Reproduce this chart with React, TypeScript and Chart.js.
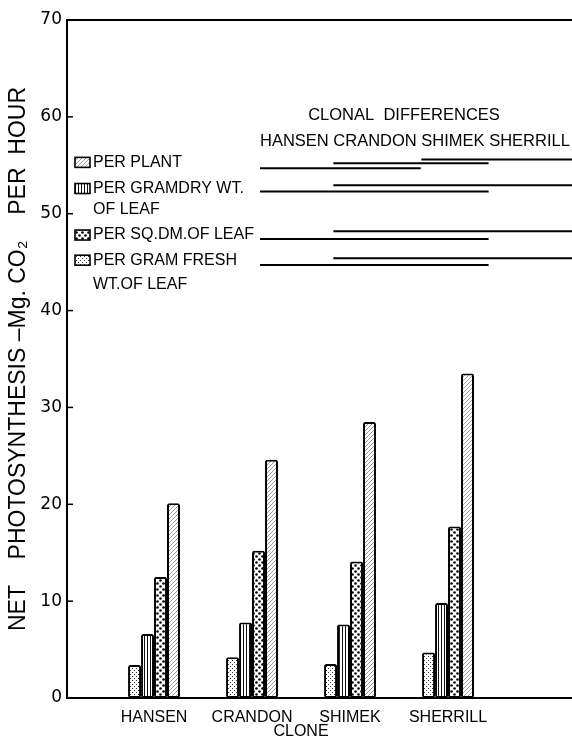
import React, { useEffect, useRef } from "react";
import { Chart, registerables } from "chart.js";

Chart.register(...registerables);

// ---- data ----
const CLONES = ["HANSEN", "CRANDON", "SHIMEK", "SHERRILL"];
const PER_GRAM_FRESH = [3.4, 4.2, 3.5, 4.7];
const PER_GRAM_DRY = [6.6, 7.8, 7.6, 9.8];
const PER_SQ_DM = [12.5, 15.2, 14.1, 17.7];
const PER_PLANT = [20.1, 24.6, 28.5, 33.5];
const Y_TICKS = [0, 10, 20, 30, 40, 50, 60, 70];

// clonal differences: ranges of clones (by index) that are not different
const DIFF_PER_PLANT = [[0, 1], [1, 2], [2, 3]];
const DIFF_PER_GRAM_DRY = [[0, 2], [1, 3]];
const DIFF_PER_SQ_DM = [[0, 2], [1, 3]];
const DIFF_PER_GRAM_FRESH = [[0, 2], [1, 3]];

const Y_TITLE = "NET    PHOTOSYNTHESIS –Mg. CO₂    PER  HOUR";

type Kind = "fresh" | "dry" | "sqdm" | "plant";

function makePattern(kind: Kind): CanvasPattern | string {
  const c = document.createElement("canvas");
  const g = c.getContext("2d");
  if (!g) return "#fff";
  if (kind === "fresh") {
    c.width = 4; c.height = 4;
    g.fillStyle = "#fff"; g.fillRect(0, 0, 4, 4);
    g.fillStyle = "#333";
    g.fillRect(0, 0, 1, 1); g.fillRect(2, 2, 1, 1);
  } else if (kind === "dry") {
    c.width = 3; c.height = 4;
    g.fillStyle = "#fff"; g.fillRect(0, 0, 3, 4);
    g.fillStyle = "#111"; g.fillRect(0, 0, 1, 4);
  } else if (kind === "sqdm") {
    c.width = 6; c.height = 6;
    g.fillStyle = "#fff"; g.fillRect(0, 0, 6, 6);
    g.fillStyle = "#000";
    g.beginPath(); g.arc(1.5, 1.5, 1.3, 0, Math.PI * 2); g.fill();
    g.beginPath(); g.arc(4.5, 4.5, 1.3, 0, Math.PI * 2); g.fill();
  } else {
    c.width = 4; c.height = 4;
    g.fillStyle = "#fff"; g.fillRect(0, 0, 4, 4);
    g.strokeStyle = "#888"; g.lineWidth = 0.8;
    g.beginPath();
    g.moveTo(0, 4); g.lineTo(4, 0);
    g.moveTo(-1, 1); g.lineTo(1, -1);
    g.moveTo(3, 5); g.lineTo(5, 3);
    g.stroke();
  }
  return g.createPattern(c, "repeat") || "#fff";
}

export default function App() {
  const ref = useRef<HTMLCanvasElement | null>(null);

  useEffect(() => {
    if (!ref.current) return;
    const pats: Record<Kind, any> = {
      fresh: makePattern("fresh"),
      dry: makePattern("dry"),
      sqdm: makePattern("sqdm"),
      plant: makePattern("plant"),
    };

    const legendRows = [
      { kind: "plant" as Kind, lines: ["PER PLANT"], y: 55.3, y2: 0, lineYs: [54.7, 55.2, 55.6], diffs: DIFF_PER_PLANT },
      { kind: "dry" as Kind, lines: ["PER GRAMDRY WT.", "OF LEAF"], y: 52.6, y2: 50.4, lineYs: [52.3, 52.95], diffs: DIFF_PER_GRAM_DRY },
      { kind: "sqdm" as Kind, lines: ["PER SQ.DM.OF LEAF"], y: 47.8, y2: 0, lineYs: [47.4, 48.2], diffs: DIFF_PER_SQ_DM },
      { kind: "fresh" as Kind, lines: ["PER GRAM FRESH", "WT.OF LEAF"], y: 45.2, y2: 42.7, lineYs: [44.7, 45.4], diffs: DIFF_PER_GRAM_FRESH },
    ];

    const decor = {
      id: "decor",
      afterDraw(chart: any) {
        const ctx: CanvasRenderingContext2D = chart.ctx;
        const { left, right, top, bottom } = chart.chartArea;
        const xs = chart.scales.x;
        const ys = chart.scales.y;
        ctx.save();
        ctx.strokeStyle = "#000";
        ctx.fillStyle = "#000";
        // top frame line
        ctx.lineWidth = 2;
        ctx.beginPath();
        ctx.moveTo(left - 1, top);
        ctx.lineTo(right, top);
        ctx.stroke();
        // inward y tick marks
        ctx.lineWidth = 1.5;
        for (const v of Y_TICKS) {
          if (v === 0 || v === 70) continue;
          const py = ys.getPixelForValue(v);
          ctx.beginPath();
          ctx.moveTo(left, py);
          ctx.lineTo(left + 6, py);
          ctx.stroke();
        }
        // x axis title
        ctx.font = '16px "Liberation Sans"';
        ctx.textAlign = "center";
        ctx.textBaseline = "middle";
        const cx = (xs.getPixelForValue(1) + xs.getPixelForValue(CLONES.length)) / 2;
        ctx.fillText("CLONE", cx, bottom + 34);

        // clonal differences header
        ctx.font = '16.5px "Liberation Sans"';
        ctx.fillText("CLONAL  DIFFERENCES", left + 337, ys.getPixelForValue(60.1));
        ctx.textAlign = "left";
        let hx = left + 193;
        const hy = ys.getPixelForValue(57.5);
        const starts: number[] = [];
        const ends: number[] = [];
        CLONES.forEach((w) => {
          const wWidth = ctx.measureText(w).width;
          starts.push(hx);
          ends.push(hx + wWidth);
          ctx.fillText(w, hx, hy);
          hx += ctx.measureText(w + " ").width;
        });

        // legend rows
        ctx.font = '16px "Liberation Sans"';
        for (const row of legendRows) {
          const ry = ys.getPixelForValue(row.y);
          ctx.fillStyle = pats[row.kind];
          ctx.fillRect(left + 8, ry - 5, 15, 10);
          ctx.strokeStyle = "#000";
          ctx.lineWidth = 1.6;
          ctx.strokeRect(left + 8, ry - 5, 15, 10);
          ctx.fillStyle = "#000";
          ctx.fillText(row.lines[0], left + 26, ry);
          if (row.lines[1]) ctx.fillText(row.lines[1], left + 26, ys.getPixelForValue(row.y2));
          ctx.lineWidth = 2;
          row.diffs.forEach(([a, b], k) => {
            const ly = ys.getPixelForValue(row.lineYs[k]);
            ctx.beginPath();
            ctx.moveTo(starts[a], ly);
            ctx.lineTo(Math.min(ends[b] + 4, right), ly);
            ctx.stroke();
          });
        }
        ctx.restore();
      },
    };

    const mk = (label: string, vals: number[], kind: Kind) => ({
      label,
      data: vals.map((v, i) => ({ x: i + 1, y: v })),
      backgroundColor: pats[kind],
      borderColor: "#000",
      borderWidth: 2,
      borderRadius: 2,
      borderSkipped: false,
    });

    const chart = new Chart(ref.current, {
      type: "bar",
      data: {
        datasets: [
          mk("PER GRAM FRESH WT. OF LEAF", PER_GRAM_FRESH, "fresh"),
          mk("PER GRAM DRY WT. OF LEAF", PER_GRAM_DRY, "dry"),
          mk("PER SQ.DM. OF LEAF", PER_SQ_DM, "sqdm"),
          mk("PER PLANT", PER_PLANT, "plant"),
        ] as any,
      },
      options: {
        responsive: false,
        animation: false,
        devicePixelRatio: 1,
        layout: { padding: { top: 20, right: 0, left: 0, bottom: 0 } },
        datasets: { bar: { categoryPercentage: 0.53, barPercentage: 1 } } as any,
        plugins: { legend: { display: false }, tooltip: { enabled: false } },
        scales: {
          x: {
            type: "linear",
            offset: false,
            min: 0.112,
            max: 5.265,
            grid: { display: false, drawTicks: false, offset: false },
            border: { display: true, color: "#000", width: 2 },
            afterBuildTicks: (s: any) => {
              s.ticks = CLONES.map((_, i) => ({ value: i + 1 }));
            },
            afterFit: (s: any) => {
              s.height = 44;
            },
            ticks: {
              autoSkip: false,
              maxRotation: 0,
              padding: 10,
              color: "#000",
              font: { family: "Liberation Sans", size: 16 },
              callback: (v: any) => CLONES[Number(v) - 1] ?? "",
            },
          },
          y: {
            min: 0,
            max: 70,
            grid: { display: false, drawTicks: false },
            border: { display: true, color: "#000", width: 2 },
            afterBuildTicks: (s: any) => {
              s.ticks = Y_TICKS.map((v) => ({ value: v }));
            },
            afterFit: (s: any) => {
              s.width = 67;
            },
            ticks: {
              padding: 5,
              color: "#000",
              font: { family: "DejaVu Sans", size: 17 },
            },
            title: {
              display: true,
              text: Y_TITLE,
              color: "#000",
              font: { family: "Liberation Sans", size: 23 },
              padding: { top: 5, bottom: 0 },
            },
          },
        } as any,
      },
      plugins: [decor],
    });
    return () => chart.destroy();
  }, []);

  return (
    <div style={{ position: "absolute", left: 0, top: 0, width: 572, height: 742, background: "#fff" }}>
      <canvas ref={ref} width={572} height={742} />
    </div>
  );
}
